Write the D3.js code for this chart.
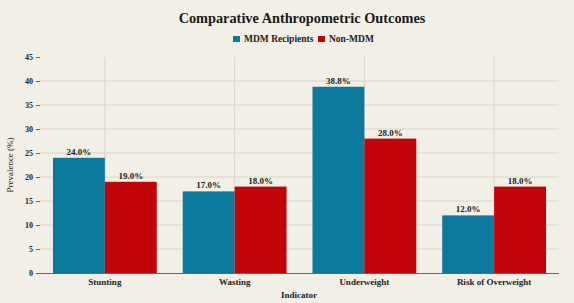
<!DOCTYPE html>
<html><head><meta charset="utf-8">
<script src="https://cdn.jsdelivr.net/npm/d3@7"></script>
<style>
html,body{margin:0;padding:0;background:#f2efe6;}
svg{display:block;font-family:"Palatino Linotype","Book Antiqua",Palatino,"Liberation Serif",serif;}
</style></head>
<body>
<svg id="c" width="574" height="303"></svg>
<script>
const categories = ["Stunting", "Wasting", "Underweight", "Risk of Overweight"];
const seriesNames = ["MDM Recipients", "Non-MDM"];
const mdmValues = [24.0, 17.0, 38.8, 12.0];
const nonMdmValues = [19.0, 18.0, 28.0, 18.0];
const yTicks = [0, 5, 10, 15, 20, 25, 30, 35, 40, 45];
const colors = ["#0b7a9d", "#c00408"];

const svg = d3.select("#c");
const m = {left: 40, right: 559, top: 57, bottom: 273};

const x = d3.scaleBand().domain(categories).range([m.left, m.right]).paddingInner(0.2).paddingOuter(0.1);
const xs = d3.scaleBand().domain(seriesNames).range([0, x.bandwidth()]);
const y = d3.scaleLinear().domain([0, 45]).range([m.bottom, m.top]);

svg.append("rect").attr("width", 574).attr("height", 303).attr("fill", "#f2efe6");

// horizontal grid
svg.append("g").selectAll("line").data(yTicks.filter(d => d > 0 && d < 45)).join("line")
  .attr("x1", m.left).attr("x2", m.right)
  .attr("y1", d => y(d)).attr("y2", d => y(d))
  .attr("stroke", "#d9d4c9").attr("stroke-width", 1);
// vertical grid at category centers
svg.append("g").selectAll("line").data(categories).join("line")
  .attr("x1", d => x(d) + x.bandwidth() / 2).attr("x2", d => x(d) + x.bandwidth() / 2)
  .attr("y1", m.top).attr("y2", m.bottom)
  .attr("stroke", "#d9d4c9").attr("stroke-width", 1);

// bars
const data = categories.map((c, i) => ({c, vals: [mdmValues[i], nonMdmValues[i]]}));
const g = svg.append("g").selectAll("g").data(data).join("g")
  .attr("transform", d => `translate(${x(d.c)},0)`);
g.selectAll("rect").data(d => d.vals.map((v, j) => ({v, s: seriesNames[j], j}))).join("rect")
  .attr("x", d => xs(d.s)).attr("width", xs.bandwidth())
  .attr("y", d => y(d.v)).attr("height", d => y(0) - y(d.v))
  .attr("fill", d => colors[d.j]);
g.selectAll("text").data(d => d.vals.map((v, j) => ({v, s: seriesNames[j], j}))).join("text")
  .attr("x", d => xs(d.s) + xs.bandwidth() / 2).attr("y", d => y(d.v) - 3)
  .attr("text-anchor", "middle").attr("font-size", 9).attr("font-weight", "bold").attr("fill", "#222")
  .text(d => d.v.toFixed(1) + "%");

// y axis
const ya = svg.append("g").attr("transform", `translate(${m.left},0)`)
  .call(d3.axisLeft(y).tickValues(yTicks).tickSize(4).tickPadding(3));
ya.attr("font-family", null).attr("font-size", null);
ya.select(".domain").remove();
ya.selectAll(".tick line").attr("stroke", "#666");
ya.selectAll("text").attr("font-size", 8).attr("font-weight", "bold").attr("fill", "#222");

// x axis
const xa = svg.append("g").attr("transform", `translate(0,${m.bottom})`)
  .call(d3.axisBottom(x).tickSize(0).tickPadding(6));
xa.attr("font-family", null).attr("font-size", null);
xa.select(".domain").attr("stroke", "#666").attr("stroke-width", 1)
  .attr("d", `M${m.left},0.5H${m.right}`);
xa.selectAll("text").attr("font-size", 9).attr("font-weight", "bold").attr("fill", "#222");

// axis titles
svg.append("text").attr("x", 299).attr("y", 298)
  .attr("text-anchor", "middle").attr("font-size", 9).attr("font-weight", "bold").attr("fill", "#222")
  .text("Indicator");
svg.append("text").attr("transform", `translate(13,${(m.top + m.bottom) / 2}) rotate(-90)`)
  .attr("text-anchor", "middle").attr("font-size", 9).attr("fill", "#222")
  .text("Prevalence (%)");

// title
svg.append("text").attr("x", 302).attr("y", 23)
  .attr("text-anchor", "middle").attr("font-size", 14.3).attr("font-weight", "bold").attr("fill", "#1a1a1a")
  .text("Comparative Anthropometric Outcomes");

// legend
const leg = svg.append("g");
const legItems = [{n: seriesNames[0], x: 233}, {n: seriesNames[1], x: 318}];
legItems.forEach((d, i) => {
  leg.append("rect").attr("x", d.x).attr("y", 36).attr("width", 7).attr("height", 6).attr("fill", colors[i]);
  leg.append("text").attr("x", d.x + 11).attr("y", 42).attr("font-size", 9.5).attr("font-weight", "bold")
    .attr("fill", "#222").text(d.n);
});
</script>
</body></html>
